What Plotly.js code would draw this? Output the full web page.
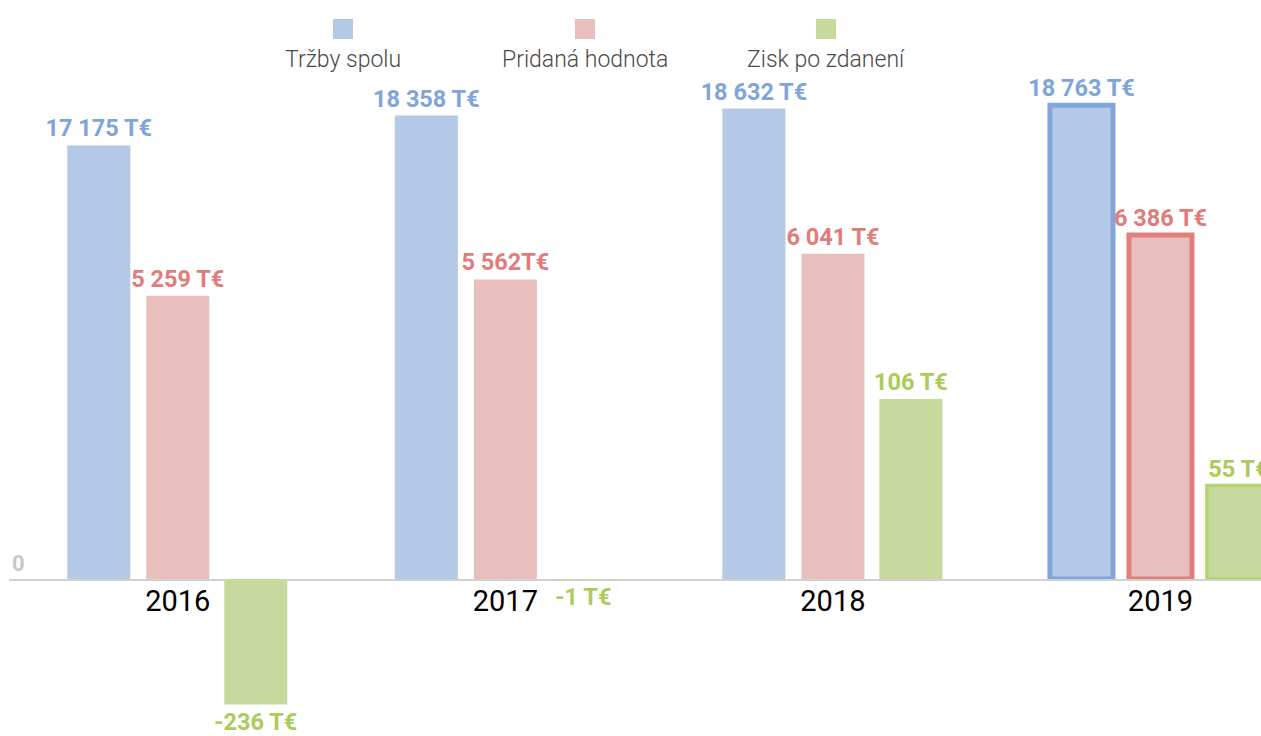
<!DOCTYPE html>
<html><head><meta charset="utf-8">
<script src="https://cdn.plot.ly/plotly-3.0.1.min.js"></script>
<style>html,body{margin:0;padding:0;background:#fff;overflow:hidden}#chart{width:1261px;height:736px}</style>
</head><body><div id="chart"></div>
<script>
// ---- data ----
const years = ['2016', '2017', '2018', '2019'];
const sales = [17175, 18358, 18632, 18763];
const addedValue = [5259, 5562, 6041, 6386];
const profit = [-236, -1, 106, 55];
const salesLabels = ['17 175 T€', '18 358 T€', '18 632 T€', '18 763 T€'];
const addedLabels = ['5 259 T€', '5 562T€', '6 041 T€', '6 386 T€'];
const profitLabels = ['-236 T€', '-1 T€', '106 T€', '55 T€'];
const seriesNames = ['Tržby spolu', 'Pridaná hodnota', 'Zisk po zdanení'];

// ---- style ----
const W = 1261, H = 736, zeroPx = 579;
const zFrac = (H - zeroPx) / H;
const kBlue = 39.61, kRed = 18.57, kGreenPos = 0.589, kGreenNeg = 1.88; // value per pixel
const fills = ['#b4c9e6', '#e8bfbc', '#c7d99d'];
const strong = ['#7fa5d9', '#e07c7a', '#abcb5a'];
const borders = ['#82a6da', '#e17f7c', '#b6d46c'];
const barW = 0.1925;
const offs = [-0.3374, -0.0962, 0.1419];
const lblFont = c => ({family: 'Roboto, sans-serif', size: 23.5, weight: 700, color: c});
const lastOnly = w => years.map((_, i) => i === years.length - 1 ? w : 0);

function barTrace(i, y, text, yaxis, lw) {
  return {
    type: 'bar', x: years, y: y, yaxis: yaxis, name: seriesNames[i],
    width: barW, offset: offs[i],
    marker: {color: fills[i], line: {color: borders[i], width: lastOnly(lw)}},
    text: text, textposition: 'outside', constraintext: 'none', cliponaxis: false,
    textfont: lblFont(strong[i]), outsidetextfont: lblFont(strong[i]),
    showlegend: false, hoverinfo: 'skip'
  };
}

const profitPos = profit.map(v => v >= 0 ? v : null);
const profitNeg = profit.map(v => v < 0 ? v : null);
const profitPosLbl = profit.map((v, i) => v >= 0 ? profitLabels[i] : '');
const profitNegLbl = profit.map((v, i) => v < 0 ? profitLabels[i] : '');

const traces = [
  barTrace(0, sales, salesLabels, 'y', 5),
  barTrace(1, addedValue, addedLabels, 'y2', 5),
  barTrace(2, profitPos, profitPosLbl, 'y3', 3.5),
  barTrace(2, profitNeg, profitNegLbl, 'y4', 3.5)
];

const hiddenY = (range, extra) => Object.assign({range: range, showgrid: false, zeroline: false,
  showticklabels: false, ticks: '', showline: false, fixedrange: true}, extra);

const legX = [343, 585, 826];
const annotations = seriesNames.map((n, i) => ({
  xref: 'paper', yref: 'paper', x: legX[i] / W, y: 1 - 59 / H, xanchor: 'center', yanchor: 'middle',
  text: n, showarrow: false, font: {family: 'Roboto, sans-serif', size: 23, weight: 300, color: '#4a4a4a'}
}));
const shapes = seriesNames.map((n, i) => ({
  type: 'rect', xref: 'paper', yref: 'paper', layer: 'above',
  x0: (legX[i] - 10) / W, x1: (legX[i] + 10) / W, y0: 1 - 39 / H, y1: 1 - 19 / H,
  fillcolor: fills[i], line: {width: 0}
}));

const layout = {
  width: W, height: H, margin: {l: 0, r: 0, t: 0, b: 0},
  paper_bgcolor: '#fff', plot_bgcolor: 'rgba(0,0,0,0)',
  barmode: 'overlay', showlegend: false,
  font: {family: 'Roboto, sans-serif'},
  xaxis: {type: 'category', domain: [9 / W, 1], range: [-0.5153, 3.307], anchor: 'y',
    showline: true, linecolor: '#d0d0d0', linewidth: 1.5, ticks: '', showgrid: false, zeroline: false,
    tickfont: {family: 'Roboto, sans-serif', size: 29, color: '#000'}, ticklabelstandoff: -4, fixedrange: true},
  yaxis: hiddenY([0, zeroPx * kBlue], {domain: [zFrac, 1], anchor: 'x', showticklabels: true,
    tickvals: [0], ticktext: ['0'], ticklabelposition: 'inside top',
    tickfont: {family: 'Roboto, sans-serif', size: 22, weight: 700, color: '#c8c8c8'}}),
  yaxis2: hiddenY([0, zeroPx * kRed], {overlaying: 'y', anchor: 'x'}),
  yaxis3: hiddenY([0, zeroPx * kGreenPos], {overlaying: 'y', anchor: 'x'}),
  yaxis4: hiddenY([-(H - zeroPx) * kGreenNeg, 0], {domain: [0, zFrac], anchor: 'x'}),
  annotations: annotations, shapes: shapes
};

Plotly.newPlot('chart', traces, layout, {staticPlot: true, displayModeBar: false});
</script></body></html>
